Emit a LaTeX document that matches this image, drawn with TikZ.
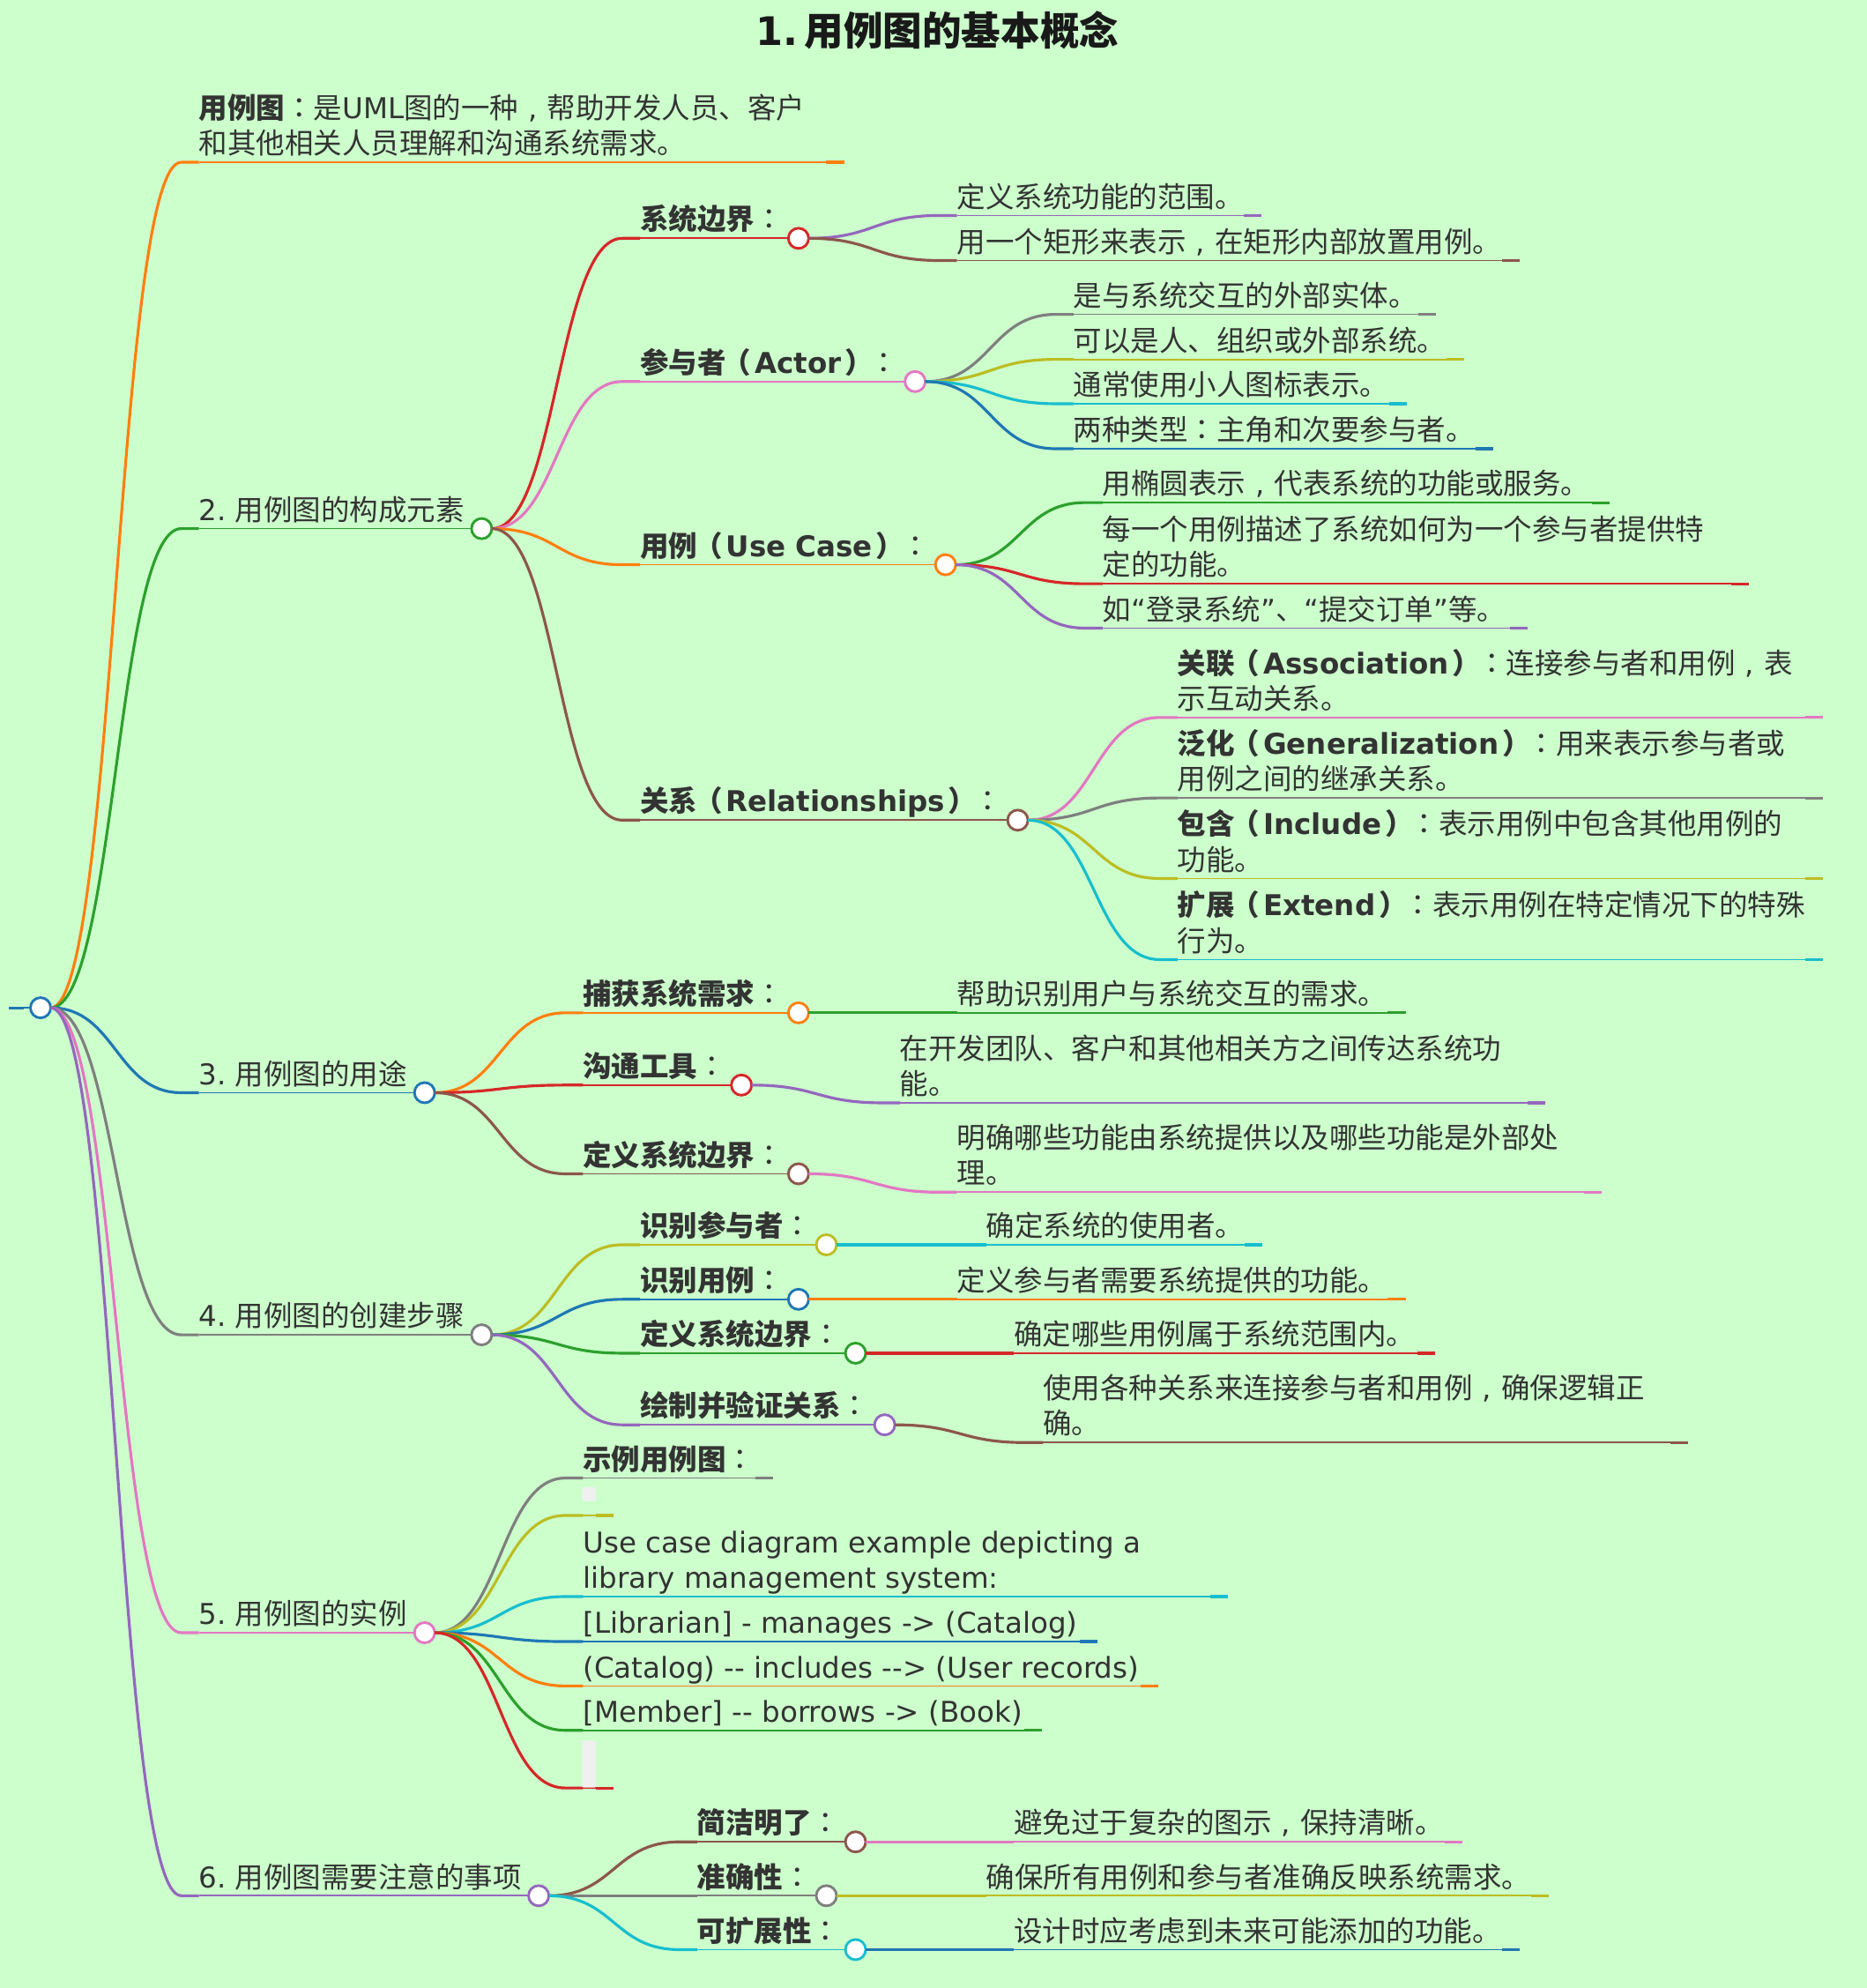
\documentclass[tikz,border=0pt]{standalone}
\usepackage{fontspec}
\setmainfont{Noto Sans CJK SC}
\newfontfamily\lat{DejaVu Sans}
\newfontfamily\jp{Noto Sans CJK JP}
\usetikzlibrary{calc}
\definecolor{bgc}{HTML}{CCFFCC}
\definecolor{txt}{HTML}{333333}
\definecolor{cOra}{HTML}{FF7F0E}
\definecolor{cGre}{HTML}{2CA02C}
\definecolor{cRed}{HTML}{D62728}
\definecolor{cPur}{HTML}{9467BD}
\definecolor{cBro}{HTML}{8C564B}
\definecolor{cPin}{HTML}{E377C2}
\definecolor{cGra}{HTML}{7F7F7F}
\definecolor{cOli}{HTML}{BCBD22}
\definecolor{cCya}{HTML}{17BECF}
\definecolor{cBlu}{HTML}{1F77B4}
\newcommand{\LL}{\rule[-5pt]{0pt}{20pt}}
\newcommand{\NL}{\\\LL}
\newcommand{\cl}{{\mdseries\jp ：}}
\newcommand{\cm}{\makebox[1em][c]{\lat ,}}
\newcommand{\lp}{\kern-0.12em（\kern0.12em}
\newcommand{\rp}{\kern0.12em）\kern-0.12em}
\newcommand{\num}[1]{{\lat #1.}\kern7pt}
\tikzset{
  lbl/.style={anchor=south west,inner sep=0pt,outer sep=0pt,align=left,text=txt,
    font=\fontsize{22.6}{28}\selectfont},
  linkline/.style={line width=2.2pt},
  thinline/.style={line width=1.2pt},
  dot/.style={circle,fill=white,line width=2pt,minimum size=16pt,inner sep=0pt,outer sep=0pt},
  pill/.style={fill=black!6,rounded corners=1pt,inner sep=0pt,minimum width=11pt,anchor=north west},
}
% #1 parent, #2 name, #3 x, #4 y, #5 end x, #6 colour, #7 text
\newcommand{\Base}[7]{%
  \coordinate (#2-in) at (#3-14,#4);
  \coordinate (#2-out) at (#3,#4);
  \node[lbl] (#2) at (#3,#4-1.5) {\LL #7};
  \draw[linkline,#6] let \p1=(#1.east),\p2=(#2-in) in
    (\p1) .. controls (\x1/2+\x2/2,\y1) and (\x1/2+\x2/2,\y2) .. (\p2) -- (#2-out);
}
\newcommand{\Leaf}[7]{%
  \Base{#1}{#2}{#3}{#4}{#5}{#6}{#7}
  \coordinate (#2-end) at (#5,#4);
  \coordinate (#2-stub) at (#5-14,#4);
  \draw[thinline,#6] (#2-out) -- (#2-end);
  \draw[linkline,#6] (#2-stub) -- (#2-end);
}
% the circle stands at x = #5
\newcommand{\Inner}[7]{%
  \Base{#1}{#2}{#3}{#4}{#5}{#6}{#7}
  \node[dot,draw=#6] (#2-c) at (#5,#4) {};
  \draw[thinline,#6] (#2-out) -- (#2-c.west);
}
\begin{document}
\begin{tikzpicture}[x=1pt,y=-1pt]
\useasboundingbox (0,0) rectangle (1473,1568.3);
\fill[bgc] (0,0) rectangle (1473,1568.3);
\node[inner sep=0pt,text=black!90,font=\fontsize{31}{36}\selectfont\bfseries] (title) at (739.5,24) {{\lat 1.}\kern5pt 用例图的基本概念};

\coordinate (rs) at (7,795);
\coordinate (rm) at (19,795);
\node[dot,draw=cBlu] (root) at (32,795) {};
\draw[linkline,cBlu] (rs) -- (rm);
\draw[thinline,cBlu] (rm) -- (root.west);

\Leaf{root}{a}{157}{128}{666}{cOra}{{\bfseries 用例图}\cl 是{\lat UML}图的一种\cm 帮助开发人员、客户\NL 和其他相关人员理解和沟通系统需求。}

\Inner{root}{b}{157}{417}{380}{cGre}{\num{2}用例图的构成元素}
\Inner{b-c}{b1}{505}{188}{630}{cRed}{{\bfseries 系统边界\cl}}
\Leaf{b1-c}{b11}{755}{170}{995}{cPur}{定义系统功能的范围。}
\Leaf{b1-c}{b12}{755}{205.5}{1199}{cBro}{用一个矩形来表示\cm 在矩形内部放置用例。}
\Inner{b-c}{b2}{505}{301}{722}{cPin}{{\bfseries 参与者\lp{\lat Actor}\rp\cl}}
\Leaf{b2-c}{b21}{847}{248}{1133}{cGra}{是与系统交互的外部实体。}
\Leaf{b2-c}{b22}{847}{283.5}{1155}{cOli}{可以是人、组织或外部系统。}
\Leaf{b2-c}{b23}{847}{318.5}{1110}{cCya}{通常使用小人图标表示。}
\Leaf{b2-c}{b24}{847}{354}{1178}{cBlu}{两种类型\cl 主角和次要参与者。}
\Inner{b-c}{b3}{505}{445.5}{746}{cOra}{{\bfseries 用例\lp{\lat Use Case}\rp\cl}}
\Leaf{b3-c}{b31}{870}{396.5}{1270}{cGre}{用椭圆表示\cm 代表系统的功能或服务。}
\Leaf{b3-c}{b32}{870}{460.5}{1380}{cRed}{每一个用例描述了系统如何为一个参与者提供特\NL 定的功能。}
\Leaf{b3-c}{b33}{870}{495.5}{1205}{cPur}{如{\lat “}登录系统{\lat ”}、{\lat “}提交订单{\lat ”}等。}
\Inner{b-c}{b4}{505}{647}{803}{cBro}{{\bfseries 关系\lp{\lat Relationships}\rp\cl}}
\Leaf{b4-c}{b41}{929}{566}{1438}{cPin}{{\bfseries 关联\lp{\lat Association}\rp}\cl 连接参与者和用例\cm 表\NL 示互动关系。}
\Leaf{b4-c}{b42}{929}{629.5}{1438}{cGra}{{\bfseries 泛化\lp{\lat Generalization}\rp}\cl 用来表示参与者或\NL 用例之间的继承关系。}
\Leaf{b4-c}{b43}{929}{693}{1438}{cOli}{{\bfseries 包含\lp{\lat Include}\rp}\cl 表示用例中包含其他用例的\NL 功能。}
\Leaf{b4-c}{b44}{929}{757}{1438}{cCya}{{\bfseries 扩展\lp{\lat Extend}\rp}\cl 表示用例在特定情况下的特殊\NL 行为。}

\Inner{root}{c}{157}{862}{335}{cBlu}{\num{3}用例图的用途}
\Inner{c-c}{c1}{460}{799}{630}{cOra}{{\bfseries 捕获系统需求\cl}}
\Leaf{c1-c}{c11}{755}{799}{1109}{cGre}{帮助识别用户与系统交互的需求。}
\Inner{c-c}{c2}{460}{856}{585}{cRed}{{\bfseries 沟通工具\cl}}
\Leaf{c2-c}{c21}{710}{870}{1219}{cPur}{在开发团队、客户和其他相关方之间传达系统功\NL 能。}
\Inner{c-c}{c3}{460}{926}{630}{cBro}{{\bfseries 定义系统边界\cl}}
\Leaf{c3-c}{c31}{755}{940.5}{1264}{cPin}{明确哪些功能由系统提供以及哪些功能是外部处\NL 理。}

\Inner{root}{d}{157}{1053}{380}{cGra}{\num{4}用例图的创建步骤}
\Inner{d-c}{d1}{505}{982}{652}{cOli}{{\bfseries 识别参与者\cl}}
\Leaf{d1-c}{d11}{778}{982}{996}{cCya}{确定系统的使用者。}
\Inner{d-c}{d2}{505}{1025}{630}{cBlu}{{\bfseries 识别用例\cl}}
\Leaf{d2-c}{d21}{755}{1025}{1109}{cOra}{定义参与者需要系统提供的功能。}
\Inner{d-c}{d3}{505}{1067.5}{675}{cGre}{{\bfseries 定义系统边界\cl}}
\Leaf{d3-c}{d31}{800}{1067.5}{1132}{cRed}{确定哪些用例属于系统范围内。}
\Inner{d-c}{d4}{505}{1124}{698}{cPur}{{\bfseries 绘制并验证关系\cl}}
\Leaf{d4-c}{d41}{823}{1138}{1332}{cBro}{使用各种关系来连接参与者和用例\cm 确保逻辑正\NL 确。}

\Inner{root}{e}{157}{1288}{335}{cPin}{\num{5}用例图的实例}
\Leaf{e-c}{e1}{460}{1166}{610}{cGra}{{\bfseries 示例用例图\cl}}
\Leaf{e-c}{e2}{460}{1195.5}{484}{cOli}{}
\node[pill,minimum height=11pt] (p1) at (459,1173) {};
\Leaf{e-c}{e3}{460}{1259.5}{969}{cCya}{{\lat Use case diagram example depicting a}\NL{\lat library management system:}}
\Leaf{e-c}{e4}{460}{1295}{866}{cBlu}{{\lat [Librarian] - manages -> (Catalog)}}
\Leaf{e-c}{e5}{460}{1330}{914}{cOra}{{\lat (Catalog) -{}- includes -{}-> (User records)}}
\Leaf{e-c}{e6}{460}{1365}{822}{cGre}{{\lat [Member] -{}- borrows -> (Book)}}
\Leaf{e-c}{e7}{460}{1410.5}{484}{cRed}{}
\node[pill,minimum height=37pt] (p2) at (459,1373) {};

\Inner{root}{f}{157}{1495.5}{425}{cPur}{\num{6}用例图需要注意的事项}
\Inner{f-c}{f1}{550}{1453}{675}{cBro}{{\bfseries 简洁明了\cl}}
\Leaf{f1-c}{f11}{800}{1453}{1154}{cPin}{避免过于复杂的图示\cm 保持清晰。}
\Inner{f-c}{f2}{550}{1495.5}{652}{cGra}{{\bfseries 准确性\cl}}
\Leaf{f2-c}{f21}{778}{1495.5}{1222}{cOli}{确保所有用例和参与者准确反映系统需求。}
\Inner{f-c}{f3}{550}{1538}{675}{cCya}{{\bfseries 可扩展性\cl}}
\Leaf{f3-c}{f31}{800}{1538}{1199}{cBlu}{设计时应考虑到未来可能添加的功能。}
\end{tikzpicture}
\end{document}
